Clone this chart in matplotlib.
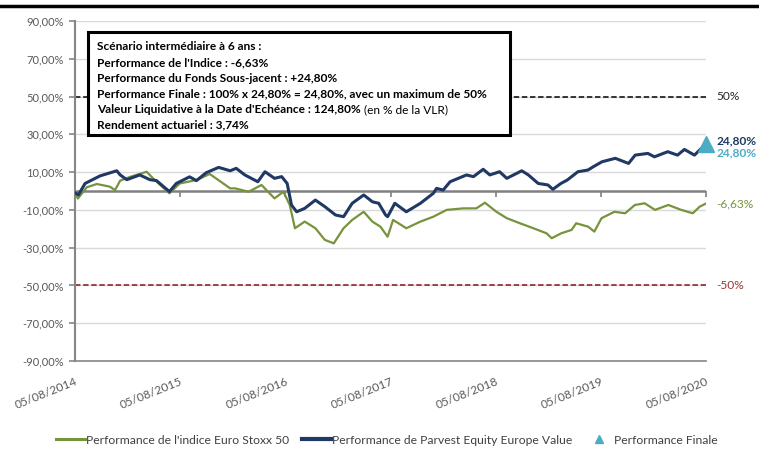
import matplotlib
matplotlib.use("Agg")
import matplotlib.pyplot as plt
import pandas as pd
from matplotlib.patches import Rectangle
from matplotlib.lines import Line2D

plt.rcParams['font.family'] = ['Lato', 'DejaVu Sans']

# ---------------- data ----------------
fund_dates = ["2014-08-05", "2014-08-17", "2014-09-09", "2014-10-31", "2014-12-28", "2015-01-09",
              "2015-02-01", "2015-03-18", "2015-04-22", "2015-05-15", "2015-06-29", "2015-07-23",
              "2015-09-07", "2015-10-01", "2015-11-04", "2015-12-17", "2016-01-26", "2016-02-16",
              "2016-03-17", "2016-05-01", "2016-05-26", "2016-06-28", "2016-07-23", "2016-08-11",
              "2016-08-26", "2016-09-13", "2016-10-11", "2016-11-17", "2016-12-20", "2017-01-26",
              "2017-02-23", "2017-03-25", "2017-05-04", "2017-06-03", "2017-06-25", "2017-07-19",
              "2017-07-26", "2017-08-20", "2017-09-29", "2017-11-17", "2018-01-01", "2018-01-12",
              "2018-02-04", "2018-02-28", "2018-04-26", "2018-05-20", "2018-06-23", "2018-07-16",
              "2018-08-19", "2018-09-13", "2018-11-04", "2018-11-27", "2018-12-31", "2019-02-03",
              "2019-02-20", "2019-03-20", "2019-04-11", "2019-05-18", "2019-06-22", "2019-07-11",
              "2019-08-10", "2019-09-25", "2019-11-10", "2019-12-03", "2020-01-16", "2020-02-08",
              "2020-03-25", "2020-04-28", "2020-05-22", "2020-06-26", "2020-07-20", "2020-08-05"]
fund_values = [-1.0, -2.0, 4.0, 8.0, 10.7, 8.5,
               6.0, 8.5, 6.0, 5.5, -0.3, 4.0,
               7.5, 5.5, 9.7, 12.5, 10.7, 12.0,
               8.5, 4.9, 10.2, 6.7, 7.6, 4.0,
               -7.4, -11.0, -9.2, -4.8, -8.3, -12.7,
               -13.6, -6.5, -2.1, -5.7, -6.5, -12.7,
               -13.6, -6.5, -11.0, -6.5, -1.2, 1.4,
               0.5, 4.9, 8.5, 7.6, 11.5, 8.5,
               10.2, 6.7, 10.7, 8.5, 4.0, 3.2,
               0.9, 4.0, 5.8, 10.2, 11.1, 12.9,
               15.5, 17.3, 14.6, 19.0, 19.9, 18.1,
               20.8, 19.0, 22.0, 19.0, 22.6, 24.80]

index_dates = ["2014-08-05", "2014-08-15", "2014-09-15", "2014-10-20", "2014-12-04", "2014-12-22",
               "2015-01-09", "2015-02-13", "2015-04-11", "2015-05-03", "2015-06-29", "2015-08-04",
               "2015-10-01", "2015-11-16", "2015-12-16", "2016-01-26", "2016-02-12", "2016-03-30",
               "2016-05-14", "2016-06-28", "2016-07-29", "2016-08-20", "2016-09-07", "2016-10-11",
               "2016-11-17", "2016-12-20", "2017-01-20", "2017-02-23", "2017-03-25", "2017-05-04",
               "2017-06-03", "2017-07-01", "2017-07-26", "2017-08-14", "2017-09-29", "2017-11-17",
               "2018-01-01", "2018-02-16", "2018-04-14", "2018-05-30", "2018-06-29", "2018-08-08",
               "2018-09-13", "2018-10-29", "2018-12-14", "2019-01-29", "2019-02-16", "2019-03-21",
               "2019-04-26", "2019-05-12", "2019-06-23", "2019-07-14", "2019-08-08", "2019-09-22",
               "2019-10-29", "2019-12-02", "2020-01-05", "2020-02-10", "2020-03-27", "2020-05-11",
               "2020-06-20", "2020-07-14", "2020-08-05"]
index_values = [-0.5, -4.0, 2.0, 3.7, 2.3, 0.5,
                5.5, 7.5, 10.2, 6.7, -1.2, 4.0,
                5.8, 9.0, 5.8, 1.4, 1.4, -0.4,
                3.2, -3.9, -0.4, -7.4, -19.7, -16.2,
                -19.7, -25.9, -27.7, -19.7, -15.3, -11.0,
                -16.2, -18.9, -24.2, -15.3, -19.7, -16.2,
                -13.6, -10.0, -9.2, -9.2, -6.2, -11.0,
                -14.4, -17.1, -19.7, -22.4, -25.0, -22.4,
                -20.6, -17.1, -18.9, -21.5, -14.4, -11.0,
                -11.8, -7.4, -6.5, -10.0, -7.4, -10.0,
                -11.8, -8.3, -6.63]

final_date = "2020-08-05"
final_perf = 24.80
cap_level = 50
floor_level = -50

x_ticks = ["2014-08-05", "2015-08-05", "2016-08-05", "2017-08-05",
           "2018-08-05", "2019-08-05", "2020-08-05"]
x_labels = ["05/08/2014", "05/08/2015", "05/08/2016", "05/08/2017",
            "05/08/2018", "05/08/2019", "05/08/2020"]
y_ticks = [90, 70, 50, 30, 10, -10, -30, -50, -70, -90]
y_labels = ["90,00%", "70,00%", "50,00%", "30,00%", "10,00%", "-10,00%",
            "-30,00%", "-50,00%", "-70,00%", "-90,00%"]

legend_labels = ["Performance de l'indice Euro Stoxx 50",
                 "Performance de Parvest Equity Europe Value",
                 "Performance Finale"]

box_lines = [("Scénario intermédiaire à 6 ans :", ""),
             ("Performance de l'Indice : -6,63%", ""),
             ("Performance du Fonds Sous-jacent : +24,80%", ""),
             ("Performance Finale : 100% x 24,80% = 24,80%, avec un maximum de 50%", ""),
             ("Valeur Liquidative à la Date d'Echéance : 124,80%", " (en % de la VLR)"),
             ("Rendement actuariel : 3,74%", "")]

# ---------------- colours ----------------
GREEN = "#77933C"
NAVY = "#1F3864"
CYAN = "#4BACC6"
RED = "#953735"
GRID = "#D9D9D9"
AXIS = "#868686"
TXT = "#404040"

W, H = 759, 449
fig = plt.figure(figsize=(W / 100, H / 100), dpi=100)
ax = fig.add_axes([75 / W, 1 - 361 / H, (706 - 75) / W, (361 - 21) / H])

fd = pd.to_datetime(fund_dates)
idd = pd.to_datetime(index_dates)
xt = pd.to_datetime(x_ticks)

for yv in y_ticks:
    ax.axhline(yv, color=GRID, lw=1.0, zorder=1)
ax.axhline(0, color="#808080", lw=1.8, zorder=2)
ax.plot(xt, [0] * len(xt), ls="none", marker=3, ms=4, mew=1.2, color="#808080", zorder=2)

ax.axhline(cap_level, color="#262626", lw=1.3, ls=(0, (3, 1.5)), zorder=2)
ax.axhline(floor_level, color=RED, lw=1.3, ls=(0, (3, 1.5)), zorder=2)

ax.plot(idd, index_values, color=GREEN, lw=1.6, zorder=3)
ax.plot(fd, fund_values, color=NAVY, lw=2.2, zorder=4)
ax.plot(pd.to_datetime([final_date]), [final_perf], ls="none", marker="^",
        ms=11, color=CYAN, zorder=5, clip_on=False)

ax.set_xlim(pd.Timestamp(x_ticks[0]), pd.Timestamp(x_ticks[-1]))
ax.set_ylim(-90, 90)
ax.set_yticks(y_ticks)
ax.set_yticklabels(y_labels, fontsize=8, color="#595959")
ax.set_xticks(xt)
ax.set_xticklabels(x_labels, fontsize=8.6, color="#595959", rotation=22,
                   ha="right", rotation_mode="anchor")
ax.tick_params(axis="x", length=0, pad=11)
ax.tick_params(axis="y", length=4, width=1.2, color=AXIS, pad=4)
for s in ["top", "right"]:
    ax.spines[s].set_visible(False)
ax.spines["left"].set_color(AXIS)
ax.spines["left"].set_linewidth(1.5)
ax.spines["bottom"].set_color(AXIS)
ax.spines["bottom"].set_linewidth(1.2)

# right labels
trans = ax.get_yaxis_transform()
ax.text(1.017, cap_level, "50%", transform=trans, fontsize=8.6, color="#262626", va="center")
ax.text(1.017, 26.5, "24,80%", transform=trans, fontsize=8.6, color=NAVY,
        fontweight="bold", va="center")
ax.text(1.017, 20.3, "24,80%", transform=trans, fontsize=8.6, color=CYAN,
        fontweight="bold", va="center")
ax.text(1.017, -6.63, "-6,63%", transform=trans, fontsize=8.6, color=GREEN, va="center")
ax.text(1.017, floor_level, "-50%", transform=trans, fontsize=8.6, color=RED, va="center")

# text box
bx0, by0, bx1, by1 = 88, 32, 510, 135
fig.patches.append(Rectangle((bx0 / W, 1 - by1 / H), (bx1 - bx0) / W, (by1 - by0) / H,
                             transform=fig.transFigure, facecolor="white",
                             edgecolor="black", lw=2.2, zorder=10))
fig.canvas.draw()
renderer = fig.canvas.get_renderer()
y0 = 47
for i, (bold, normal) in enumerate(box_lines):
    yy = 1 - (y0 + i * 15.6) / H
    t = fig.text(97 / W, yy, bold, fontsize=8.6, fontweight="bold", color="black",
                 va="center", zorder=11)
    if normal:
        ext = t.get_window_extent(renderer=renderer)
        fig.text(ext.x1 / W, yy, normal, fontsize=8.6, color="black", va="center", zorder=11)

# top black rule
fig.add_artist(Line2D([0, 1], [1 - 6 / H, 1 - 6 / H], transform=fig.transFigure,
                      color="black", lw=2.5))

# legend
handles = [Line2D([], [], color=GREEN, lw=2.2),
           Line2D([], [], color=NAVY, lw=3),
           Line2D([], [], ls="none", marker="^", ms=6, color=CYAN)]
fig.legend(handles, legend_labels, loc="center", bbox_to_anchor=(0.51, 1 - 440 / H),
           ncol=3, frameon=False, fontsize=8.7, handlelength=2.4, handletextpad=0.1,
           columnspacing=1.0, labelcolor=TXT)

fig.savefig("out.png", dpi=100)
